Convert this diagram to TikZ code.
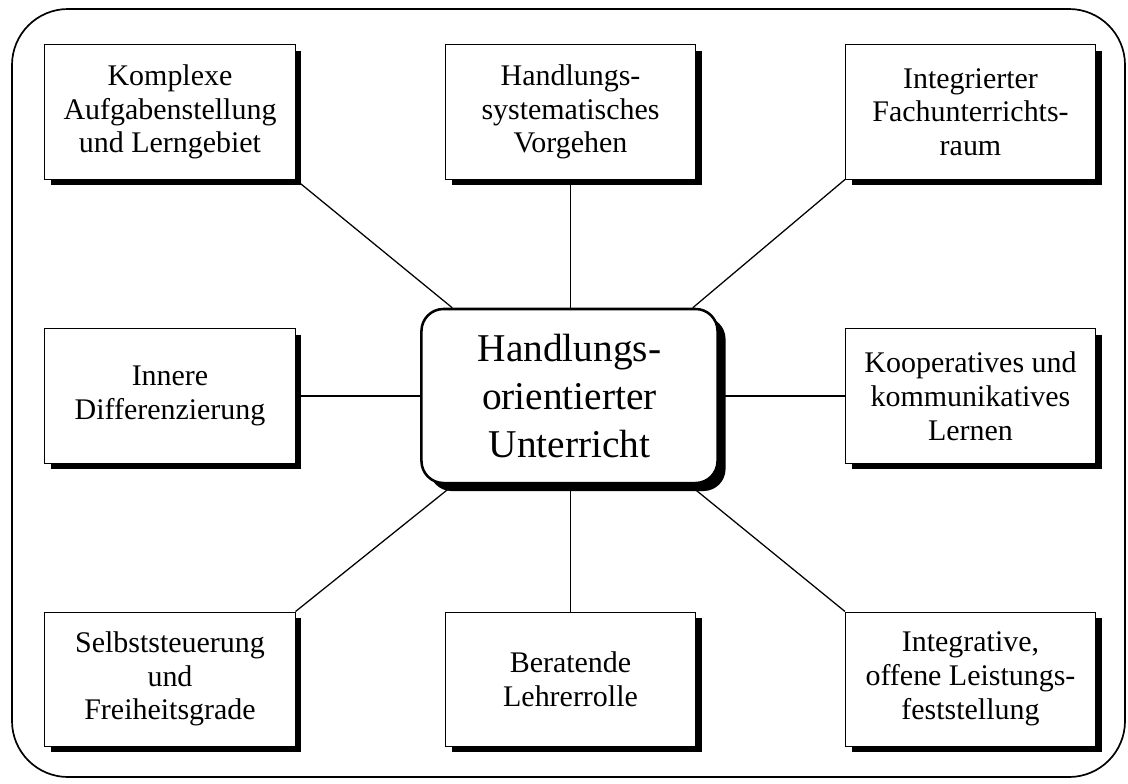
\documentclass[tikz,border=0pt]{standalone}
\usepackage{fontspec}
\setmainfont{Liberation Serif}
\usetikzlibrary{shadows,calc}
\begin{document}
\begin{tikzpicture}[x=0.025cm,y=-0.025cm,
  box/.style={draw, line width=0.7pt, fill=white, minimum width=6.25cm, minimum height=3.35cm,
    align=center, inner sep=0pt, font=\fontsize{21.3}{24}\selectfont,
    drop shadow={shadow xshift=0.16cm, shadow yshift=-0.16cm, opacity=1, fill=black}},
  hub/.style={draw, line width=1.8pt, rounded corners=0.55cm, fill=white, minimum width=7.4cm,
    minimum height=4.35cm, align=center, inner sep=0pt, font=\fontsize{28}{34}\selectfont,
    drop shadow={shadow xshift=0.2cm, shadow yshift=-0.2cm, opacity=1, fill=black}},
  link/.style={line width=0.9pt},
  frame/.style={line width=1.2pt, rounded corners=1.4cm}]
\useasboundingbox (0,0) rectangle (1128,783);
\draw[frame] (12,9) rectangle (1125,777);

\node[hub] (c) at (569.5,396) {Handlungs-\\orientierter\\Unterricht};

\node[box] (tl) at (170,112) {Komplexe\\Aufgabenstellung\\und Lerngebiet};
\node[box] (tm) at (570.5,112) {Handlungs-\\systematisches\\Vorgehen};
\node[box] (tr) at (970.5,112) {Integrierter\\Fachunterrichts-\\raum};
\node[box] (ml) at (170,396) {Innere\\Differenzierung};
\node[box] (mr) at (970.5,396) {Kooperatives und\\kommunikatives\\Lernen};
\node[box] (bl) at (170,679) {Selbststeuerung\\und\\Freiheitsgrade};
\node[box] (bm) at (570.5,679) {Beratende\\Lehrerrolle};
\node[box] (br) at (970.5,679) {Integrative,\\offene Leistungs-\\feststellung};

\draw[link] (tl.south east) -- ($(c.north west)+(32,0)$);
\draw[link] (tm.south) -- (tm.south |- c.north);
\draw[link] (tr.south west) -- ($(c.north east)+(-26,0)$);
\draw[link] (ml.east) -- (ml.east -| c.west);
\draw[link] (mr.west) -- (mr.west -| c.east);
\draw[link] (bl.north east) -- ($(c.south west)+(34,0)$);
\draw[link] (bm.north) -- (bm.north |- c.south);
\draw[link] (br.north west) -- ($(c.south east)+(-30,0)$);
\end{tikzpicture}
\end{document}
